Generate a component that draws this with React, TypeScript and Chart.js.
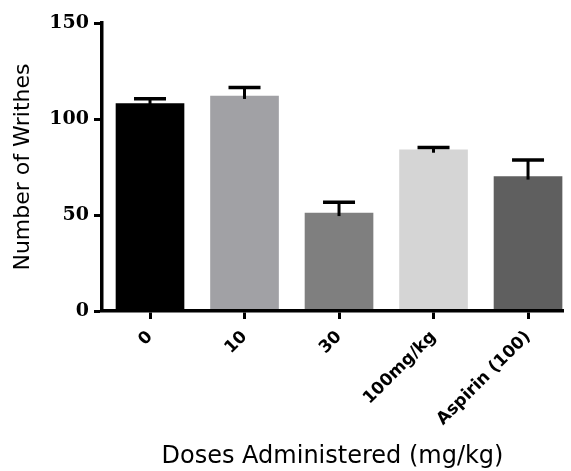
import React, { useEffect, useRef } from 'react';
import { Chart, registerables } from 'chart.js';

Chart.register(...registerables);

const categories = ['0', '10', '30', '100mg/kg', 'Aspirin (100)'];
const means = [108, 112, 51, 84, 70];
const sem = [2.6, 4.4, 5.7, 1.1, 8.7];
const barColors = ['#000000', '#a1a1a5', '#7f7f7f', '#d5d5d5', '#5f5f5f'];
const yTicks = [0, 50, 100, 150];
const xTitle = 'Doses Administered (mg/kg)';
const yTitle = 'Number of Writhes';

const errorBars = {
  id: 'errorBars',
  afterDatasetsDraw(chart: any) {
    const { ctx } = chart;
    const y = chart.scales.y;
    const meta = chart.getDatasetMeta(0);
    ctx.save();
    ctx.strokeStyle = '#000';
    ctx.lineCap = 'butt';
    meta.data.forEach((bar: any, i: number) => {
      const top = y.getPixelForValue(means[i]);
      const cap = y.getPixelForValue(means[i] + sem[i]);
      ctx.lineWidth = 3;
      ctx.beginPath();
      ctx.moveTo(bar.x, top + 3);
      ctx.lineTo(bar.x, cap);
      ctx.stroke();
      ctx.lineWidth = 3.5;
      ctx.beginPath();
      ctx.moveTo(bar.x - 16, cap);
      ctx.lineTo(bar.x + 16, cap);
      ctx.stroke();
    });
    ctx.restore();
  },
};

export default function App() {
  const canvasRef = useRef<HTMLCanvasElement | null>(null);

  useEffect(() => {
    if (!canvasRef.current) return;
    const chart = new Chart(canvasRef.current, {
      type: 'bar',
      data: {
        datasets: [
          {
            data: categories.map((_, i) => ({ x: i, y: means[i] })) as any,
            backgroundColor: barColors,
            borderWidth: 0,
            barThickness: 68,
          },
        ],
      },
      plugins: [errorBars],
      options: {
        animation: false,
        responsive: true,
        maintainAspectRatio: false,
        layout: { padding: { top: 23, right: 8, bottom: 0, left: 0 } },
        plugins: {
          legend: { display: false },
          tooltip: { enabled: false },
        },
        scales: {
          x: {
            type: 'linear',
            offset: false,
            min: -0.508,
            max: 4.37,
            afterBuildTicks: (s: any) => {
              s.ticks = categories.map((_, i) => ({ value: i }));
            },
            afterFit: (s: any) => {
              s.height = 160;
            },
            ticks: {
              autoSkip: false,
              minRotation: 45,
              maxRotation: 45,
              padding: 8,
              color: '#000',
              font: { family: 'DejaVu Sans', weight: 'bold', size: 17 },
              callback: (v: any) => categories[v] ?? '',
            },
            grid: {
              display: true,
              offset: false,
              drawOnChartArea: false,
              drawTicks: true,
              tickLength: 8,
              tickWidth: 3,
              tickColor: '#000',
            },
            border: { display: true, color: '#000', width: 3.5, z: 1 },
            title: {
              display: true,
              text: xTitle,
              color: '#000',
              font: { family: 'DejaVu Sans', size: 24 },
              padding: { top: 0, bottom: 0 },
            },
          },
          y: {
            type: 'linear',
            min: 0,
            max: 150,
            afterBuildTicks: (s: any) => {
              s.ticks = yTicks.map((v) => ({ value: v }));
            },
            afterFit: (s: any) => {
              s.width = 102;
            },
            ticks: {
              padding: 5,
              color: '#000',
              font: { family: 'DejaVu Serif', weight: 'bold', size: 19 },
            },
            grid: {
              display: true,
              drawOnChartArea: false,
              drawTicks: true,
              tickLength: 8,
              tickWidth: 3,
              tickColor: '#000',
            },
            border: { display: true, color: '#000', width: 3.5, z: 1 },
            title: {
              display: true,
              text: yTitle,
              color: '#000',
              font: { family: 'DejaVu Sans', size: 22 },
              padding: { top: 10, bottom: 0 },
            },
          },
        },
      } as any,
    });
    return () => chart.destroy();
  }, []);

  return (
    <div style={{ position: 'absolute', left: 0, top: 0, width: 571, height: 471 }}>
      <canvas ref={canvasRef} />
    </div>
  );
}
